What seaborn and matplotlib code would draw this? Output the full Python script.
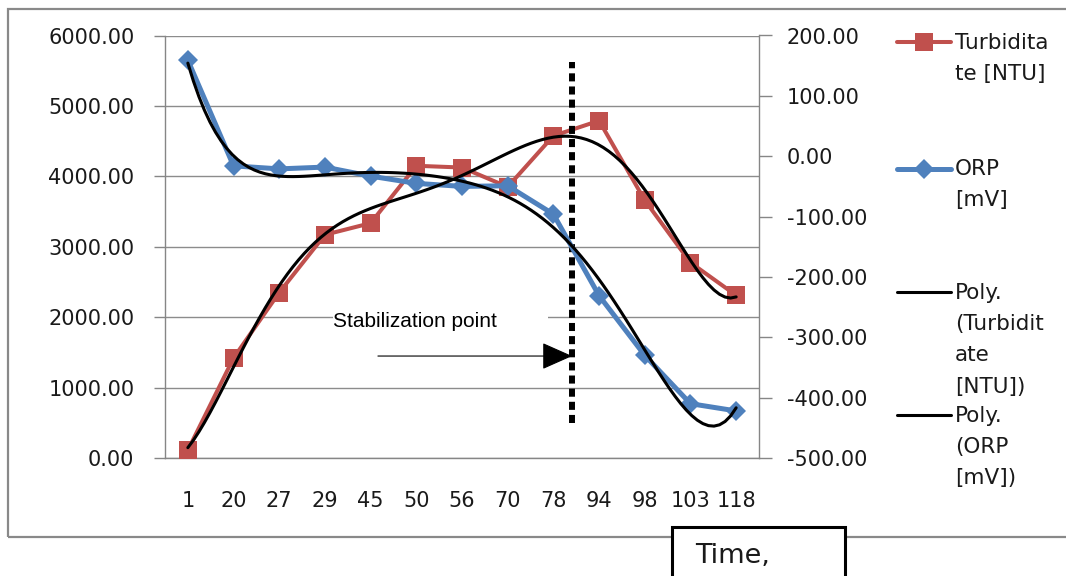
import numpy as np
import matplotlib
matplotlib.use("Agg")
import matplotlib.pyplot as plt
import seaborn as sns
from matplotlib.patches import Rectangle
from matplotlib.lines import Line2D

# ---------------- data ----------------
time_labels = ["1", "20", "27", "29", "45", "50", "56", "70", "78", "94", "98", "103", "118"]
turbidity_ntu = [110, 1420, 2350, 3170, 3335, 4150, 4125, 3850, 4575, 4790, 3660, 2775, 2310]
orp_mv = [159, -16, -21, -18, -33, -45, -50, -49, -96, -231, -330, -410, -422]

left_ticks = [0, 1000, 2000, 3000, 4000, 5000, 6000]
right_ticks = [-500, -400, -300, -200, -100, 0, 100, 200]

legend_labels = ["Turbidita\nte [NTU]", "ORP\n[mV]", "Poly.\n(Turbidit\nate\n[NTU])", "Poly.\n(ORP\n[mV])"]

stab_label = "Stabilization point"
stab_pos = 8.41          # category position of the stabilization marker
stab_span = (497, 5624)  # vertical extent (left-axis units)
arrow_start = 4.16
arrow_level = 1448
stab_text_pos = (3.18, 1860)
time_label = "Time,"

RED = "#C0504D"
BLUE = "#4F81BD"
GRAY = "#868686"
TXT = "#1a1a1a"

sns.set_style("white")
plt.rcParams["font.family"] = ["DejaVu Sans"]

W, H = 1066, 576
fig = plt.figure(figsize=(W / 100, H / 100), dpi=100)
fig.patch.set_facecolor("white")


def fx(px):
    return px / W


def fy(py):
    return 1 - py / H


ax = fig.add_axes([fx(165), fy(458), fx(759) - fx(165), fy(35.5) - fy(458)])
ax2 = ax.twinx()

positions = np.arange(len(time_labels))

# data lines
sns.lineplot(x=positions, y=turbidity_ntu, ax=ax, color=RED, lw=2.9,
             marker="s", markersize=13, markeredgewidth=0, zorder=3)
sns.lineplot(x=positions, y=orp_mv, ax=ax2, color=BLUE, lw=3.6,
             marker="D", markersize=10, markeredgewidth=0, zorder=3)

# polynomial trendlines (order 6, like Excel's "Poly." trendline)
sns.regplot(x=positions, y=np.array(turbidity_ntu, float), order=6, ci=None, scatter=False,
            truncate=True, ax=ax2, line_kws=dict(color="black", lw=2.2, zorder=4))
ax2.lines[-1].set_transform(ax.transData)
sns.regplot(x=positions, y=np.array(orp_mv, float), order=6, ci=None, scatter=False,
            truncate=True, ax=ax2, line_kws=dict(color="black", lw=2.2, zorder=4))

# axes limits / ticks
ax.set_xlim(-0.5, len(time_labels) - 0.5)
ax2.set_xlim(-0.5, len(time_labels) - 0.5)
ax.set_ylim(left_ticks[0], left_ticks[-1])
ax2.set_ylim(right_ticks[0], right_ticks[-1])

ax.set_xticks(positions)
ax.set_xticklabels(time_labels)
ax.set_xticks(np.arange(-0.5, len(time_labels), 1.0), minor=True)
ax.tick_params(axis="x", which="major", length=0, pad=24, labelsize=15, labelcolor=TXT)
ax.tick_params(axis="x", which="minor", length=9, width=1.0, color=GRAY, direction="out")
ax.set_yticks(left_ticks)
ax.set_yticklabels([f"{v:.2f}" for v in left_ticks])
ax.tick_params(axis="y", length=8, width=1.0, color=GRAY, direction="out", pad=14,
               labelsize=15, labelcolor=TXT, left=True)
ax2.set_yticks(right_ticks)
ax2.set_yticklabels([f"{v:.2f}" for v in right_ticks])
ax2.tick_params(axis="y", length=9, width=1.0, color=GRAY, direction="out", pad=11,
                labelsize=15, labelcolor=TXT, right=True)
ax.set_xlabel("")
ax.set_ylabel("")
ax2.set_ylabel("")

ax.yaxis.grid(True, color="#8c8c8c", lw=1.0)
ax.set_axisbelow(True)
for s in ["top", "right"]:
    ax.spines[s].set_visible(False)
for s in ["left", "bottom"]:
    ax.spines[s].set_color(GRAY)
    ax.spines[s].set_linewidth(1.0)
for s in ["top", "left", "bottom"]:
    ax2.spines[s].set_visible(False)
ax2.spines["right"].set_color(GRAY)
ax2.spines["right"].set_linewidth(1.0)

# annotation: white text box covering the gridline, text, arrow, dotted line
ax.add_patch(Rectangle((stab_text_pos[0], 1680), 7.88 - stab_text_pos[0], 560,
                       facecolor="white", edgecolor="none", zorder=1))
ax.text(stab_text_pos[0], stab_text_pos[1], stab_label, family="Liberation Sans",
        fontsize=15, color="black", va="baseline", ha="left", zorder=5)
ax.annotate("", xy=(stab_pos, arrow_level), xytext=(arrow_start, arrow_level),
            arrowprops=dict(arrowstyle="-|>,head_length=0.97,head_width=0.43",
                            mutation_scale=20, lw=0.8, color="black",
                            shrinkA=0, shrinkB=0), zorder=5)
ax.plot([stab_pos, stab_pos], list(stab_span), color="black", lw=4.3,
        dashes=(1.35, 0.85), solid_capstyle="butt", dash_capstyle="butt", zorder=5)

# ---------------- legend (Excel-like, handle next to first line) ----------------
handle_y = [42, 169, 292, 415]
text_top = [33, 159, 283, 406]
handle_styles = [
    dict(color=RED, lw=2.9, marker="s", markersize=13),
    dict(color=BLUE, lw=3.6, marker="D", markersize=10),
    dict(color="black", lw=2.2),
    dict(color="black", lw=2.2),
]
for lab, hy, ty, st in zip(legend_labels, handle_y, text_top, handle_styles):
    fig.add_artist(Line2D([fx(897), fx(951)], [fy(hy), fy(hy)], color=st["color"], lw=st["lw"]))
    if "marker" in st:
        fig.add_artist(Line2D([fx(924)], [fy(hy)], linestyle="none", marker=st["marker"],
                              markersize=st["markersize"], markeredgewidth=0, color=st["color"]))
    fig.text(fx(955), fy(ty), lab, fontsize=15.5, color=TXT, va="top", ha="left",
             linespacing=1.7)

# outer chart border
fig.add_artist(Rectangle((fx(8), fy(537)), 1.2, fy(8.5) - fy(537), transform=fig.transFigure,
                         facecolor="none", edgecolor="#898989", lw=1.6, zorder=0))
# "Time," box
fig.add_artist(Rectangle((fx(672), fy(600)), fx(845) - fx(672), fy(527) - fy(600),
                         transform=fig.transFigure, facecolor="white", edgecolor="black",
                         lw=2.2, zorder=10))
fig.text(fx(695), fy(563), time_label, fontsize=19.5, color=TXT, va="baseline", ha="left", zorder=11)

fig.savefig("out.png", dpi=100, facecolor="white")
